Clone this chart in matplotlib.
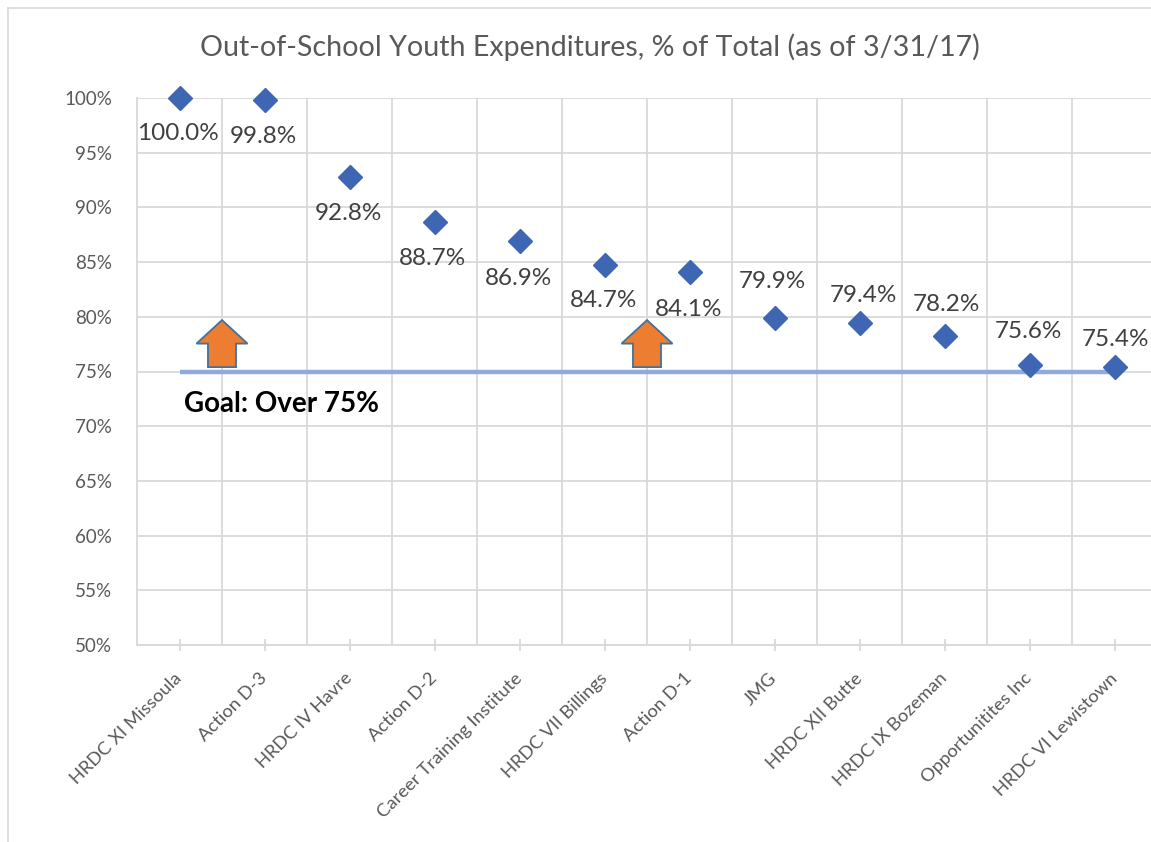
import matplotlib.pyplot as plt
from matplotlib.patches import FancyArrow
from matplotlib.lines import Line2D

plt.rcParams['font.family'] = ['Lato', 'DejaVu Sans']

# data
categories = ['HRDC XI Missoula', 'Action D-3', 'HRDC IV Havre', 'Action D-2',
              'Career Training Institute', 'HRDC VII Billings', 'Action D-1', 'JMG',
              'HRDC XII Butte', 'HRDC IX Bozeman', 'Opportunitites Inc', 'HRDC VI Lewistown']
pct = [100.0, 99.8, 92.8, 88.7, 86.9, 84.7, 84.1, 79.9, 79.4, 78.2, 75.6, 75.4]
goal = 75
arrow_pos = [0.5, 5.5]  # arrows sit between categories

# label offsets in pixels (Excel put some labels below, some above)
label_off = [(-2, -36), (-1, -36), (-1, -37), (-2, -37), (-1, -37), (-1, -35),
             (-1, -38), (-2, 36), (4, 28), (2, 32), (-1, 33), (1, 28)]

W, H = 1151, 842
fig = plt.figure(figsize=(W / 100, H / 100), dpi=100)
fig.patch.set_facecolor('white')

# outer chart border
fig.add_artist(Line2D([8 / W, 8 / W], [0, 1 - 8 / H], color='#d9d9d9', lw=1.2))
fig.add_artist(Line2D([8 / W, 1], [1 - 8 / H, 1 - 8 / H], color='#d9d9d9', lw=1.2))

ax = fig.add_axes([137 / W, (H - 645) / H, 1020 / W, (645 - 98) / H])
x = list(range(len(categories)))

grid_c = '#d9d9d9'
for b in [i + 0.5 for i in x[:-1]]:
    ax.axvline(b, color=grid_c, lw=1.3, zorder=0)
ax.yaxis.grid(True, color=grid_c, lw=1.3, zorder=0)
ax.set_axisbelow(True)

ax.plot([0, len(categories) - 1], [goal, goal], color='#8faadc', lw=3.2,
        solid_capstyle='butt', zorder=2)

ax.plot(x, pct, linestyle='none', marker='D', markersize=12.5,
        color='#3f66b3', zorder=4, clip_on=False)

for xi, v, (dx, dy) in zip(x, pct, label_off):
    ax.annotate(f'{v:.1f}%', (xi, v), xytext=(dx, dy), textcoords='offset pixels',
                ha='center', va='center', fontsize=17.5, color='#404040', zorder=5)

for ap in arrow_pos:
    ax.add_patch(FancyArrow(ap, goal + 0.4, 0, 4.3, width=0.33, head_width=0.6,
                            head_length=2.15, length_includes_head=True,
                            facecolor='#ed7d31', edgecolor='#41719c', lw=1.3,
                            zorder=3))

ax.text(0.05, 72.0, 'Goal: Over 75%', fontsize=20, fontweight='bold',
        color='black', ha='left', va='center')

ax.set_xlim(-0.5, len(categories) - 0.5)
ax.set_ylim(50, 100)
ax.set_yticks(range(50, 101, 5))
ax.set_yticklabels([f'{t}%' for t in range(50, 101, 5)])
ax.set_xticks(x)
ax.set_xticklabels(categories, rotation=45, ha='right', va='center',
                   rotation_mode='anchor')

for s in ['top', 'right']:
    ax.spines[s].set_visible(False)
ax.spines['left'].set_color(grid_c)
ax.spines['left'].set_linewidth(1.3)
ax.spines['bottom'].set_color(grid_c)
ax.spines['bottom'].set_linewidth(1.3)
ax.tick_params(axis='y', length=0, pad=18, labelsize=13.5, labelcolor='#595959')
ax.tick_params(axis='x', direction='inout', length=8, width=1.3, color=grid_c,
               pad=18, labelsize=13.2, labelcolor='#595959')

fig.text(590 / W, 1 - 47 / H, 'Out-of-School Youth Expenditures, % of Total (as of 3/31/17)',
         ha='center', va='center', fontsize=20.6, color='#595959')

fig.savefig('out.png', dpi=100, facecolor='white')
